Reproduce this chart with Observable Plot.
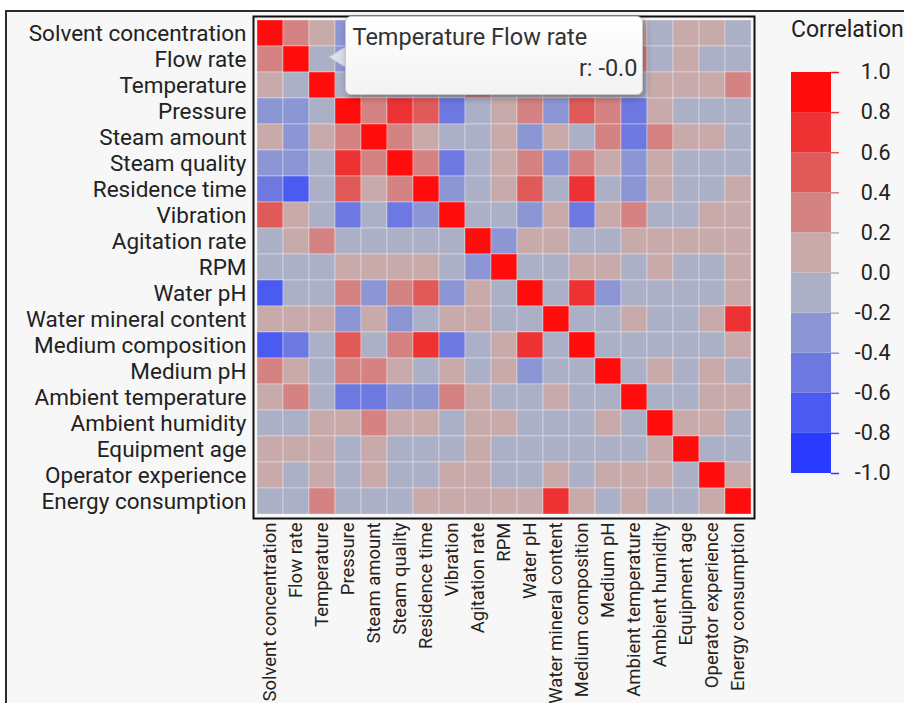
<!DOCTYPE html>
<html>
<head>
<meta charset="utf-8">
<script src="https://cdn.jsdelivr.net/npm/d3@7"></script>
<script src="https://cdn.jsdelivr.net/npm/@observablehq/plot@0.6"></script>
<style>
  html, body { margin: 0; padding: 0; background: #ffffff; }
  #page { position: relative; width: 904px; height: 703px; overflow: hidden; font-family: Roboto, "Open Sans", sans-serif; }
  #panel { position: absolute; left: 5px; top: 10px; right: -10px; bottom: -10px; background: #f7f7f7;
           border-top: 2px solid #2b2b2b; border-left: 2px solid #2b2b2b; }
  #page svg { position: absolute; left: 0; top: 0; }
  #legend-title { position: absolute; left: 791px; top: 16px; font-size: 23px; line-height: 27px; color: #222; white-space: nowrap; }
  #tip { position: absolute; background: linear-gradient(#ffffff, #f3f3f3); border: 1px solid #c9c9c9;
         border-radius: 6px; box-shadow: 2px 3px 7px rgba(0,0,0,0.35); color: #333; }
  #tip .t1 { position: absolute; left: 7px; top: 6px; font-size: 23.5px; line-height: 28px; white-space: nowrap; }
  #tip .t2 { position: absolute; right: 4px; top: 37px; font-size: 23.5px; line-height: 28px; white-space: nowrap; }
</style>
</head>
<body>
<div id="page"><div id="panel"></div></div>
<script>
// Process variables, in matrix order (rows top to bottom, columns left to right)
const variables = [
  "Solvent concentration", "Flow rate", "Temperature", "Pressure", "Steam amount",
  "Steam quality", "Residence time", "Vibration", "Agitation rate", "RPM",
  "Water pH", "Water mineral content", "Medium composition", "Medium pH",
  "Ambient temperature", "Ambient humidity", "Equipment age",
  "Operator experience", "Energy consumption"
];

// Lower triangle of the correlation matrix (row i holds columns 0..i)
const r00 = [1];
const r01 = [0.3, 1];
const r02 = [0.1, -0.04, 1];
const r03 = [-0.3, -0.3, -0.1, 1];
const r04 = [0.1, -0.3, 0.1, 0.3, 1];
const r05 = [-0.3, -0.3, -0.1, 0.7, 0.3, 1];
const r06 = [-0.5, -0.7, -0.1, 0.5, 0.1, 0.3, 1];
const r07 = [0.5, 0.1, -0.1, -0.5, -0.1, -0.5, -0.3, 1];
const r08 = [-0.1, 0.1, 0.3, -0.1, -0.1, -0.1, -0.1, -0.1, 1];
const r09 = [-0.1, -0.1, -0.1, 0.1, 0.1, 0.1, 0.1, -0.1, -0.3, 1];
const r10 = [-0.7, -0.1, -0.1, 0.3, -0.3, 0.3, 0.5, -0.3, 0.1, -0.1, 1];
const r11 = [0.1, 0.1, 0.1, -0.3, 0.1, -0.3, -0.1, 0.1, 0.1, -0.1, -0.1, 1];
const r12 = [-0.7, -0.5, -0.1, 0.5, -0.1, 0.3, 0.7, -0.5, -0.1, 0.1, 0.7, -0.1, 1];
const r13 = [0.3, 0.1, -0.1, 0.3, 0.3, 0.1, -0.1, 0.1, -0.1, 0.1, -0.3, -0.1, -0.1, 1];
const r14 = [0.1, 0.3, -0.1, -0.5, -0.5, -0.3, -0.3, 0.3, 0.1, -0.1, -0.1, 0.1, -0.1, -0.1, 1];
const r15 = [-0.1, -0.1, 0.1, 0.1, 0.3, 0.1, 0.1, -0.1, 0.1, 0.1, -0.1, -0.1, -0.1, 0.1, -0.1, 1];
const r16 = [0.1, 0.1, 0.1, -0.1, 0.1, -0.1, -0.1, -0.1, 0.1, -0.1, -0.1, -0.1, -0.1, -0.1, -0.1, 0.1, 1];
const r17 = [0.1, -0.1, 0.1, -0.1, 0.1, -0.1, -0.1, 0.1, 0.1, -0.1, -0.1, 0.1, -0.1, 0.1, 0.1, 0.1, -0.1, 1];
const r18 = [-0.1, -0.1, 0.3, -0.1, -0.1, -0.1, 0.1, 0.1, 0.1, 0.1, 0.1, 0.7, 0.1, -0.1, 0.1, -0.1, -0.1, 0.1, 1];
const lower = [r00, r01, r02, r03, r04, r05, r06, r07, r08, r09, r10, r11, r12, r13, r14, r15, r16, r17, r18];

// Binned diverging colour scale, steps of 0.2 from -1 to 1
const thresholds = [-0.8, -0.6, -0.4, -0.2, 0, 0.2, 0.4, 0.6, 0.8];
const binColors = ["#2a3aff", "#4b5af0", "#6e78e1", "#8c96d4", "#acb0c6",
                   "#c8aaaa", "#d48282", "#e05a5a", "#ee3234", "#ff0c0c"];
const legendTicks = [1, 0.8, 0.6, 0.4, 0.2, 0, -0.2, -0.4, -0.6, -0.8, -1];

// Hovered cell shown with its tooltip
const hover = {row: "Flow rate", col: "Temperature"};

// Full symmetric table
const table = [];
variables.forEach((rowName, i) => {
  variables.forEach((colName, j) => {
    const r = j <= i ? lower[i][j] : lower[j][i];
    table.push({row: rowName, col: colName, r});
  });
});

const colorScale = {type: "threshold", domain: thresholds, range: binColors};
const font = "Roboto, 'Open Sans', sans-serif";

const chart = Plot.plot({
  width: 760,
  height: 703,
  marginLeft: 253,
  marginRight: 6,
  marginTop: 16,
  marginBottom: 185,
  style: {background: "transparent", fontFamily: font, color: "#222"},
  x: {domain: variables, padding: 0, axis: null},
  y: {domain: variables, padding: 0, axis: null},
  color: colorScale,
  marks: [
    Plot.cell(table, {x: "col", y: "row", fill: "r", stroke: "#ffffff", strokeOpacity: 0.35, strokeWidth: 1}),
    Plot.frame({stroke: "#111", strokeWidth: 2}),
    Plot.axisY({anchor: "left", tickSize: 0, tickPadding: 7, fontSize: 22.5, label: null}),
    Plot.axisX({anchor: "bottom", tickSize: 0, tickPadding: 4, tickRotate: -90, fontSize: 18.5, label: null})
  ]
});

// Legend: vertical colour bar with value ticks on the right
const bins = d3.range(10).map(i => {
  const lo = -1 + i * 0.2;
  return {lo, hi: lo + 0.2, mid: lo + 0.1};
});
const legend = Plot.plot({
  width: 904,
  height: 703,
  marginLeft: 791,
  marginRight: 73,
  marginTop: 72,
  marginBottom: 230,
  style: {background: "transparent", fontFamily: font, color: "#222"},
  x: {domain: [0, 1], axis: null},
  y: {domain: [-1, 1], axis: null},
  color: colorScale,
  marks: [
    Plot.rect(bins, {x1: 0, x2: 1, y1: "lo", y2: "hi", fill: "mid"}),
    Plot.ruleY(legendTicks, {x1: 1, x2: 1.2, stroke: d => (d >= 0 ? d - 0.1 : d + 0.1), strokeWidth: 1.5}),
    Plot.text(legendTicks, {x: 1, y: d => d, dx: 59, text: d => d.toFixed(1), textAnchor: "end", fontSize: 21.5})
  ]
});

const page = document.getElementById("page");
page.appendChild(chart);
page.appendChild(legend);

const title = document.createElement("div");
title.id = "legend-title";
title.textContent = "Correlation";
page.appendChild(title);

// Tooltip for the hovered cell, placed with the chart's own scales
const xs = chart.scale("x"), ys = chart.scale("y");
const tipX = xs.apply(hover.col) + xs.bandwidth * 0.75;
const tipY = ys.apply(hover.row) + ys.bandwidth / 2;
const hoverR = table.find(d => d.row === hover.row && d.col === hover.col).r;

const arrow = document.createElementNS("http://www.w3.org/2000/svg", "svg");
arrow.setAttribute("width", 904);
arrow.setAttribute("height", 703);
arrow.innerHTML = `<polygon points="${tipX},${tipY - 2} ${tipX + 18},${tipY - 13} ${tipX + 18},${tipY + 9}" fill="#e4e4ee" fill-opacity="0.9" stroke="#b8b8c4" stroke-width="1"/>`;
page.appendChild(arrow);

const tip = document.createElement("div");
tip.id = "tip";
tip.style.left = (tipX + 16) + "px";
tip.style.top = (tipY - 43) + "px";
tip.style.width = "296px";
tip.style.height = "77px";
tip.innerHTML = `<span class="t1">${hover.col} ${hover.row}</span><span class="t2">r: ${hoverR.toFixed(1)}</span>`;
page.appendChild(tip);
</script>
</body>
</html>
